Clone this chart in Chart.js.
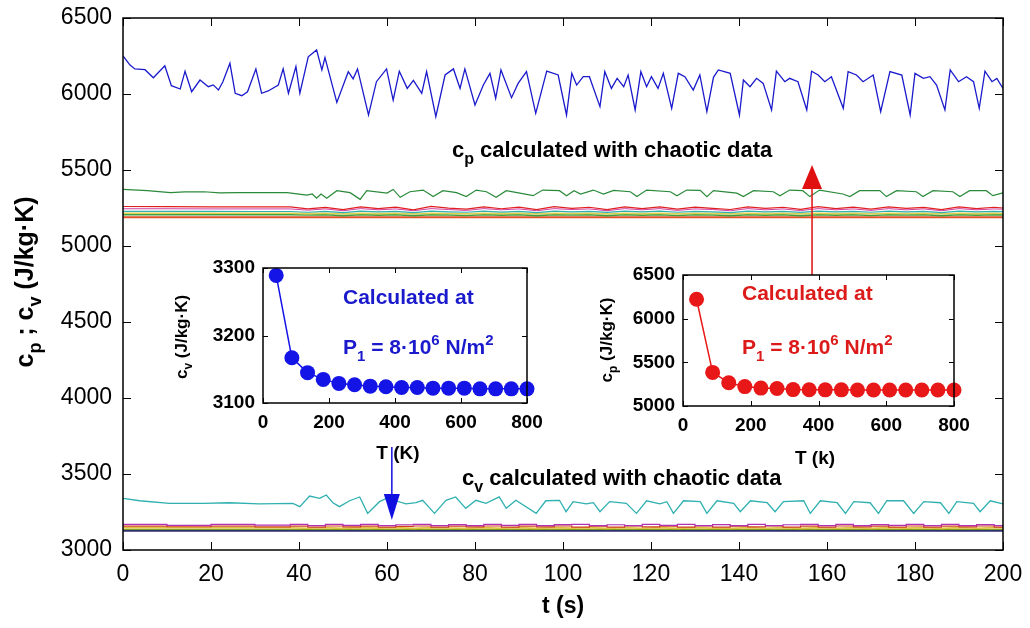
<!DOCTYPE html>
<html><head><meta charset="utf-8">
<script src="https://cdn.jsdelivr.net/npm/chart.js@4.4.1/dist/chart.umd.min.js"></script>
<style>
html,body{margin:0;padding:0;background:#fff;}
#wrap{position:relative;width:1030px;height:628px;overflow:hidden;}
.pos{position:absolute;}
</style></head><body>
<div id="wrap">
<div class="pos" style="left:0;top:0"><canvas id="main" width="1030" height="628"></canvas></div>
<div class="pos" style="left:150px;top:250px"><canvas id="incv" width="400" height="225"></canvas></div>
<div class="pos" style="left:580px;top:255px"><canvas id="incp" width="400" height="225"></canvas></div>
</div>
<script>
// ---------- main chart data ----------
const xTicks = [0,20,40,60,80,100,120,140,160,180,200];
const yTicks = [3000,3500,4000,4500,5000,5500,6000,6500];

const blueT = [0,1.6,2.7,5,6.9,9.5,11,13,14.1,15.6,17.5,19.4,20.5,21.7,22.7,24.3,25.5,27,28.3,30.2,31.5,33,35.3,36.4,37.6,39.3,40.2,42.1,44,45.2,45.9,48.6,51.2,52.3,53.3,55.8,57.6,59.9,61.4,62.8,64.6,66,67.9,69,71.1,73.2,75.1,76.6,77.7,80,81.9,83.4,84.7,85.9,88.3,89.8,91.7,93.8,96.3,98.9,100.8,102,103.1,104.6,106,108.4,109.5,111,112.3,113.8,114.8,116.4,117.7,119,120.1,121.6,122.8,124.7,126.2,127.7,129.6,131.1,132.7,134.2,135.3,138,140.1,141,142.5,144,145.5,147.4,148.5,150.4,151.5,153.4,155.4,156.5,158,159.5,161,163.7,164.8,166.7,168.2,170.5,172.2,174.3,177,178.9,180,181.9,183.4,184.9,186.8,188,189.9,191.7,193.3,194.6,195.9,197.5,198.6,200];
const blueV = [6250,6190,6165,6160,6107,6186,6055,6033,6150,6015,6092,6048,6060,6026,6081,6202,6005,5989,6015,6165,6005,6020,6059,6165,6005,6180,6005,6245,6290,6158,6240,5945,6147,6100,6165,5862,6081,6165,5960,6150,6037,6090,6005,6147,5851,6125,6165,6037,6165,5928,6059,6136,5972,6158,5976,6070,6147,5873,6150,6125,5862,6136,6059,6114,6114,5917,6147,6037,6103,6048,6125,5895,6147,6048,6114,6037,6136,5906,6136,6114,6026,6125,5884,6110,6158,6136,5862,6092,6048,6103,6070,5895,6150,6081,6103,6081,5895,6150,6125,6081,6114,5906,6147,6125,6081,6125,5884,6147,6125,5862,6136,6103,6114,6059,5895,6158,6081,6114,6081,5906,6150,6081,6103,6037];

const greenT = [0,5.5,10.8,14,18.4,22,26,37.3,41.8,43,44,45,46.3,48.6,51.6,53.9,55.4,60,61.4,63,65.2,68.2,70.5,72.7,75.8,78,80.3,82.6,84.8,87.1,90.2,93.2,95.4,99.2,100.8,102.5,104,106.9,109.2,111.5,115.3,116.8,119,124.4,125.9,128.1,131.2,132.7,134.2,139.5,141,143.3,147.8,149.3,151.5,154.5,156.1,158.3,163.6,165.2,167.4,172,173.5,175.8,180.3,181.8,184.1,188.6,190.2,192.4,196.2,197.7,200];
const greenV = [5372,5364,5351,5356,5357,5350,5351,5351,5335,5342,5314,5342,5314,5364,5351,5307,5364,5348,5372,5320,5357,5368,5325,5364,5351,5325,5368,5357,5320,5364,5348,5331,5368,5364,5331,5364,5342,5368,5342,5366,5357,5325,5368,5357,5331,5368,5366,5325,5364,5348,5325,5364,5357,5331,5368,5364,5325,5368,5342,5325,5364,5364,5325,5364,5357,5325,5364,5357,5325,5364,5364,5331,5350];

const cyanT = [0,3.8,10.6,18.2,24.2,31,38.6,40.2,42.4,44.7,46.2,47.7,49.2,51.5,53.8,55.6,58.3,60.6,62,64.3,66.6,68.1,70.8,73.4,75.6,77.9,80.2,82.5,85.5,87.1,89.3,93.9,96.1,99.2,100.7,102.3,105.3,106.9,108.4,110.6,114.4,116.7,119,122,123.6,125.1,127.4,131.2,132.7,135,138.8,140.3,142.6,146.4,148.2,150.1,154.7,156.2,158.5,162.3,164.2,166.1,169.8,171.7,173.6,177.4,179.7,182,185.8,187.7,189.5,193.3,194.8,197.1,200];
const cyanV = [3340,3324,3307,3307,3311,3303,3307,3285,3355,3340,3362,3311,3285,3324,3349,3241,3318,3349,3324,3303,3311,3327,3241,3327,3349,3274,3327,3307,3349,3274,3327,3241,3324,3327,3252,3318,3303,3311,3252,3318,3307,3241,3324,3303,3318,3241,3324,3318,3241,3324,3307,3252,3324,3311,3252,3318,3324,3241,3324,3311,3241,3318,3311,3241,3324,3324,3241,3318,3311,3241,3318,3307,3252,3324,3303];

const tMinor = [0,10,20,30,38,42,46,50,54,58,62,66,70,74,78,82,86,90,94,98,102,106,110,114,118,122,126,130,134,138,142,146,150,154,158,162,166,170,174,178,182,186,190,194,198,200];
const tEnds = [0,200];
const cpRed = [5260,5259,5258,5258,5257,5244,5254,5240,5258,5246,5256,5238,5260,5249,5242,5258,5245,5256,5240,5259,5248,5255,5240,5258,5246,5257,5242,5256,5248,5240,5258,5247,5255,5241,5259,5246,5256,5242,5258,5247,5254,5240,5258,5246,5255,5250];
const cpMag = [5245,5245,5244,5244,5244,5236,5244,5232,5246,5238,5244,5232,5246,5240,5234,5246,5238,5244,5232,5246,5240,5244,5232,5246,5238,5246,5234,5244,5240,5232,5246,5238,5244,5233,5246,5238,5244,5234,5246,5238,5244,5232,5246,5238,5244,5242];
const cpCyan = [5228,5228,5228,5227,5227,5222,5228,5220,5230,5224,5228,5220,5230,5225,5222,5229,5223,5228,5220,5230,5225,5228,5221,5230,5224,5229,5222,5228,5225,5220,5230,5224,5228,5221,5230,5224,5228,5222,5230,5225,5228,5220,5230,5224,5228,5226];
const cpYellow = [5215,5215,5215,5215,5215,5213,5215,5212,5215,5213,5215,5212,5215,5214,5212,5215,5213,5215,5212,5215,5214,5215,5212,5215,5213,5215,5212,5215,5214,5212,5215,5213,5215,5212,5215,5213,5215,5212,5215,5214,5215,5212,5215,5213,5215,5214];
const cpGreen2 = [5206,5206,5206,5206,5206,5204,5206,5200,5206,5203,5206,5200,5206,5204,5201,5206,5203,5206,5200,5206,5204,5206,5200,5206,5203,5206,5201,5206,5204,5200,5206,5203,5206,5200,5206,5203,5206,5201,5206,5204,5206,5200,5206,5203,5206,5205];
const cpOrange = [5189,5189];
const cvMag = [3168,3162,3168,3163,3168,3160,3168,3162,3169,3160,3166,3169,3161,3167,3160,3168,3162,3169,3160,3167,3169,3161,3166,3160,3168,3162,3169,3160,3167,3161,3169,3160,3166,3168,3161,3169,3160,3167,3162,3168,3160,3169,3161,3167,3160,3166];
const cvRed = [3157,3153,3157,3152,3157,3151,3158,3152,3157,3150,3156,3158,3151,3157,3152,3158,3150,3157,3152,3158,3151,3157,3150,3158,3152,3157,3151,3158,3150,3157,3152,3158,3151,3157,3150,3158,3152,3157,3151,3158,3150,3157,3152,3158,3151,3156];
const cvYellow = [3147,3147,3146,3146,3146,3143,3147,3142,3147,3144,3147,3142,3147,3145,3142,3147,3143,3147,3142,3147,3144,3147,3142,3147,3143,3147,3142,3147,3144,3142,3147,3143,3147,3142,3147,3143,3147,3142,3147,3144,3147,3142,3147,3143,3147,3146];
const cvGreen = [3136,3136];
const cvNavy = [3126,3126];

// ---------- inset data ----------
const insetT = [40,87.5,135,182.5,230,277.5,325,372.5,420,467.5,515,562.5,610,657.5,705,752.5,800];
const insetXTicks = [0,200,400,600,800];
const cvInset = [3289,3167,3145,3135,3129,3127,3125,3124,3123,3123,3122,3122,3122,3121,3121,3121,3121];
const cvInsetTicks = [3100,3200,3300];
const cpInset = [6222,5385,5267,5222,5205,5200,5188,5186,5185,5185,5184,5184,5184,5183,5183,5183,5183];
const cpInsetTicks = [5000,5500,6000,6500];

// ---------- helpers ----------
const FAM = '"Liberation Sans", Arial, sans-serif';
function pts(t, v){ return t.map((x,i)=>({x:x, y:v[i]})); }
function drawRich(ctx, parts, x, y, o){
  const w = o.weight || 'bold', base = o.size, small = Math.round(base*0.72);
  ctx.save();
  ctx.fillStyle = o.color || '#000';
  ctx.textBaseline = 'alphabetic'; ctx.textAlign = 'left';
  let total = 0;
  const ws = parts.map(p=>{ ctx.font = w+' '+(p[1]?small:base)+'px '+FAM; const m = ctx.measureText(p[0]).width; total += m; return m; });
  ctx.translate(x, y);
  if (o.rotate) ctx.rotate(-Math.PI/2);
  let cx = o.align === 'center' ? -total/2 : 0;
  parts.forEach((p,i)=>{
    ctx.font = w+' '+(p[1]?small:base)+'px '+FAM;
    const dy = p[1]===1 ? base*0.32 : (p[1]===2 ? -base*0.42 : 0);
    ctx.fillText(p[0], cx, dy);
    cx += ws[i];
  });
  ctx.restore();
}
function arrow(ctx, x, y0, y1, color, headLen, headHalf){
  ctx.save();
  ctx.strokeStyle = color; ctx.fillStyle = color; ctx.lineWidth = 1.5;
  const dir = y1 < y0 ? -1 : 1;
  ctx.beginPath(); ctx.moveTo(x, y0); ctx.lineTo(x, y1 - dir*headLen*0.8); ctx.stroke();
  ctx.beginPath(); ctx.moveTo(x, y1); ctx.lineTo(x-headHalf, y1 - dir*headLen); ctx.lineTo(x+headHalf, y1 - dir*headLen); ctx.closePath(); ctx.fill();
  ctx.restore();
}
function boxTicks(len, lw){
  return {
    id:'boxTicks',
    afterDraw(chart){
      const ctx = chart.ctx, a = chart.chartArea, sx = chart.scales.x, sy = chart.scales.y;
      ctx.save();
      ctx.strokeStyle = '#000'; ctx.lineWidth = lw;
      ctx.strokeRect(a.left, a.top, a.right-a.left, a.bottom-a.top);
      ctx.lineWidth = 1;
      ctx.beginPath();
      sx.ticks.forEach(t=>{ const px = Math.round(sx.getPixelForValue(t.value))+0.5;
        ctx.moveTo(px, a.bottom); ctx.lineTo(px, a.bottom-len);
        ctx.moveTo(px, a.top); ctx.lineTo(px, a.top+len); });
      sy.ticks.forEach(t=>{ const py = Math.round(sy.getPixelForValue(t.value))+0.5;
        ctx.moveTo(a.left, py); ctx.lineTo(a.left+len, py);
        ctx.moveTo(a.right, py); ctx.lineTo(a.right-len, py); });
      ctx.stroke();
      ctx.restore();
    }
  };
}
function fixedTicks(arr){ return function(s){ s.ticks = arr.map(v=>({value:v})); }; }
function fitTo(prop, val){ return function(s){ s[prop] = val; s.paddingTop = 0; s.paddingBottom = 0; s.paddingLeft = 0; s.paddingRight = 0; }; }
const plain = v => String(v);

function lineDs(t, v, color, w, stepped){
  return {data: pts(t,v), borderColor: color, borderWidth: w||1.2, pointRadius:0, fill:false, tension:0, stepped: stepped||false};
}

// ---------- main chart ----------
const molX = {red:156.6, blue:61.1};
const arrowRed = [4809, 5533];
const arrowBlue = [3678, 3197];
const mainAnno = {
  id:'mainAnno',
  afterDraw(chart){
    const ctx = chart.ctx, sx = chart.scales.x, sy = chart.scales.y;
    drawRich(ctx, [['t (s)',0]], 563, 613, {size:23, align:'center'});
    drawRich(ctx, [['c',0],['p',1],[' ; c',0],['v',1],[' (J/kg\u00B7K)',0]], 33, 282, {size:25, align:'center', rotate:true});
    drawRich(ctx, [['c',0],['p',1],[' calculated with chaotic data',0]], 452, 157, {size:22});
    drawRich(ctx, [['c',0],['v',1],[' calculated with chaotic data',0]], 462, 485, {size:22});
    arrow(ctx, sx.getPixelForValue(molX.red), sy.getPixelForValue(arrowRed[0]), sy.getPixelForValue(arrowRed[1]), '#e01010', 24, 10);
    arrow(ctx, sx.getPixelForValue(molX.blue), sy.getPixelForValue(arrowBlue[0]), sy.getPixelForValue(arrowBlue[1]), '#1010e0', 26, 8);
  }
};

const tickFontMain = {family:FAM, size:23};
new Chart(document.getElementById('main'), {
  type:'line',
  data:{datasets:[
    lineDs(blueT, blueV, '#1a1acc', 1.3),
    lineDs(greenT, greenV, '#2a8a3a', 1.2),
    lineDs(tMinor, cpRed, '#e02020', 1.2),
    lineDs(tMinor, cpMag, '#d040a0', 1.0),
    lineDs(tMinor, cpCyan, '#30b0b0', 1.2),
    lineDs(tMinor, cpYellow, '#e0d050', 1.6),
    lineDs(tMinor, cpGreen2, '#40a040', 1.6),
    lineDs(tEnds, cpOrange, '#e05028', 1.8),
    lineDs(cyanT, cyanV, '#30b0b0', 1.3),
    lineDs(tMinor, cvMag, '#b030b0', 1.2, 'before'),
    lineDs(tMinor, cvRed, '#d04020', 1.2, 'before'),
    lineDs(tMinor, cvYellow, '#e0c040', 1.6),
    lineDs(tEnds, cvGreen, '#80a020', 1.4),
    lineDs(tEnds, cvNavy, '#303070', 1.6)
  ]},
  options:{
    responsive:false, animation:false, events:[],
    layout:{autoPadding:false, padding:{left:0, right:27, top:18, bottom:0}},
    plugins:{legend:{display:false}, tooltip:{enabled:false}},
    scales:{
      x:{type:'linear', min:0, max:200, afterBuildTicks:fixedTicks(xTicks),
         ticks:{font:tickFontMain, color:'#000', padding:11, maxRotation:0, autoSkip:false, callback:plain},
         grid:{display:false, drawTicks:false}, border:{display:false},
         afterFit:fitTo('height', 78)},
      y:{type:'linear', min:3000, max:6500, afterBuildTicks:fixedTicks(yTicks),
         ticks:{font:tickFontMain, color:'#000', padding:11, autoSkip:false, callback:plain},
         grid:{display:false, drawTicks:false}, border:{display:false},
         afterFit:fitTo('width', 123)}
    }
  },
  plugins:[boxTicks(8, 1.5), mainAnno]
});

// ---------- insets ----------
function makeInset(id, data, yTicksArr, ymin, ymax, color, opts){
  const anno = {
    id:'insetAnno',
    afterDraw(chart){
      const ctx = chart.ctx;
      drawRich(ctx, [['T (', 0],[opts.unit,0],[')',0]], opts.xt[0], opts.xt[1], {size:19, align:'center'});
      drawRich(ctx, [['c',0],[opts.sub,1],[' (J/kg\u00B7K)',0]], opts.yt[0], opts.yt[1], {size:17, align:'center', rotate:true});
      drawRich(ctx, [['Calculated at',0]], opts.t1[0], opts.t1[1], {size:opts.fs, color:opts.tc});
      drawRich(ctx, [['P',0],['1',1],[' = 8\u00B710',0],['6',2],[' N/m',0],['2',2]], opts.t2[0], opts.t2[1], {size:opts.fs, color:opts.tc});
    }
  };
  const f = {family:FAM, size:19, weight:'bold'};
  new Chart(document.getElementById(id), {
    type:'line',
    data:{datasets:[{data:pts(insetT, data), borderColor:color, borderWidth:1.5, pointRadius:7.5, pointBackgroundColor:color, pointBorderWidth:0, tension:0, fill:false, clip:false}]},
    options:{
      responsive:false, animation:false, events:[],
      layout:{autoPadding:false, padding:{left:0, right:opts.pad.r, top:opts.pad.t, bottom:0}},
      plugins:{legend:{display:false}, tooltip:{enabled:false}},
      scales:{
        x:{type:'linear', min:0, max:800, afterBuildTicks:fixedTicks(insetXTicks),
           ticks:{font:f, color:'#000', padding:8, maxRotation:0, autoSkip:false, callback:plain},
           grid:{display:false, drawTicks:false}, border:{display:false},
           afterFit:fitTo('height', opts.pad.xh)},
        y:{type:'linear', min:ymin, max:ymax, afterBuildTicks:fixedTicks(yTicksArr),
           ticks:{font:f, color:'#000', padding:8, autoSkip:false, callback:plain},
           grid:{display:false, drawTicks:false}, border:{display:false},
           afterFit:fitTo('width', opts.pad.yw)}
      }
    },
    plugins:[boxTicks(5, 1.5), anno]
  });
}
// left inset canvas origin (150,250): area x 263..527, y 268..403
makeInset('incv', cvInset, cvInsetTicks, 3100, 3300, '#1414e6', {
  unit:'K', sub:'v', tc:'#1a1acc', fs:21,
  pad:{r:23, t:18, xh:72, yw:113},
  xt:[248, 209], yt:[37, 87], t1:[193, 54], t2:[193, 104]
});
// right inset canvas origin (580,255): area x 683..954, y 275..406
makeInset('incp', cpInset, cpInsetTicks, 5000, 6500, '#e81818', {
  unit:'k', sub:'p', tc:'#dd1a1a', fs:21,
  pad:{r:26, t:20, xh:74, yw:103},
  xt:[235, 209], yt:[32, 85], t1:[162, 45], t2:[162, 99]
});
</script>
</body></html>
